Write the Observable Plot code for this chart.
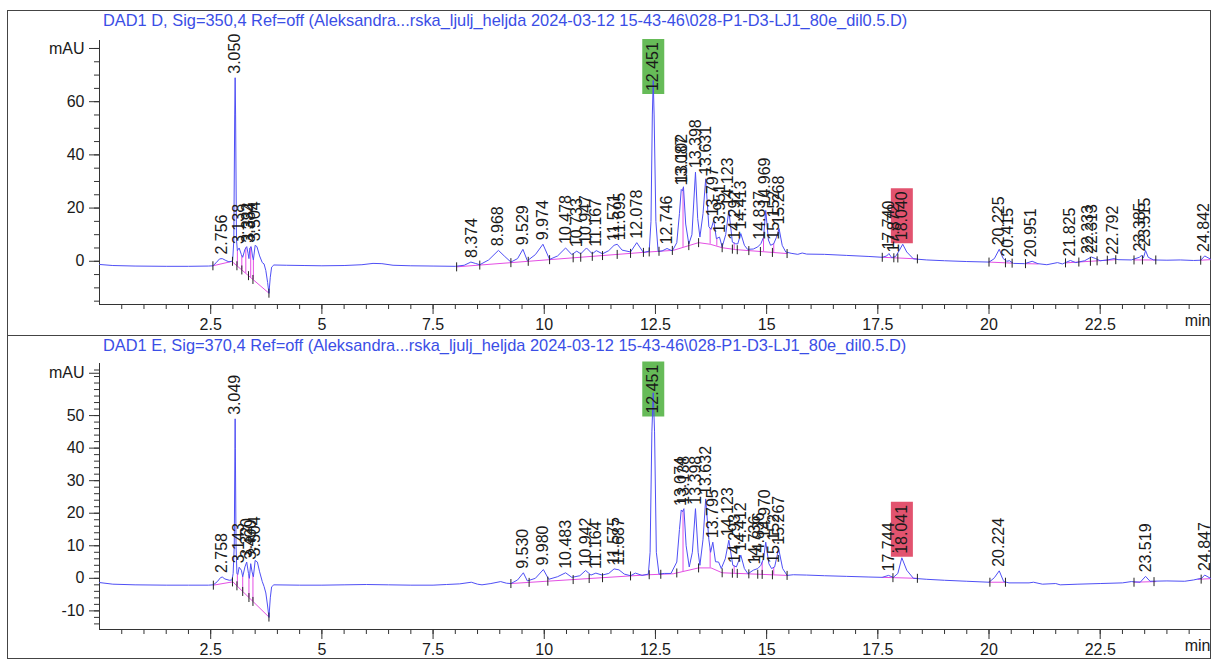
<!DOCTYPE html>
<html><head><meta charset="utf-8">
<script src="https://cdn.jsdelivr.net/npm/d3@7"></script>
<script src="https://cdn.jsdelivr.net/npm/@observablehq/plot@0.6"></script>
<style>
html,body{margin:0;padding:0;background:#fff;}
body{width:1211px;height:665px;overflow:hidden;font-family:"Liberation Sans",Arial,sans-serif;}
#frame{position:absolute;left:7px;top:10px;width:1202px;border:1px solid #444;}
.panel{position:relative;}
#p1{height:324px;border-bottom:1px solid #444;}
#p2{height:322px;}
.title{position:absolute;left:95px;top:0px;font-size:16.4px;color:#3a4ee6;white-space:nowrap;z-index:2;}
.panel svg{position:absolute;left:0;top:0;overflow:visible;}
</style>
</head><body>
<div id="frame">
  <div class="panel" id="p1"><div class="title" id="t1"></div></div>
  <div class="panel" id="p2"><div class="title" id="t2"></div></div>
</div>
<script>
const titleD = "DAD1 D, Sig=350,4 Ref=off (Aleksandra...rska_ljulj_heljda 2024-03-12 15-43-46\\028-P1-D3-LJ1_80e_dil0.5.D)";
const titleE = "DAD1 E, Sig=370,4 Ref=off (Aleksandra...rska_ljulj_heljda 2024-03-12 15-43-46\\028-P1-D3-LJ1_80e_dil0.5.D)";

// signal D (350 nm): [time min, mAU]
const traceD = [[0,-1.2],[0.3,-1.6],[0.8,-1.8],[1.5,-1.9],[2.0,-1.9],[2.45,-1.8],[2.55,-1.7],[2.62,-0.6],[2.70,0.9],[2.76,1.0],[2.84,0.3],[2.91,-0.2],[2.97,0.0],[2.995,0.4],[3.02,8],[3.04,55],[3.05,69],[3.06,55],[3.08,8],[3.10,4.0],[3.14,5.0],[3.19,2.5],[3.22,1.5],[3.27,4.5],[3.31,5.5],[3.34,3.0],[3.36,1.0],[3.38,5.0],[3.41,5.5],[3.44,2.0],[3.46,0.5],[3.50,6.0],[3.54,5.5],[3.60,2.0],[3.66,-0.5],[3.70,-1.0],[3.74,-3.5],[3.78,-8.0],[3.81,-12.0],[3.84,-6.0],[3.87,-2.2],[3.92,-1.4],[4.2,-1.5],[4.6,-1.6],[5.0,-1.7],[5.5,-1.6],[5.9,-1.3],[6.15,-0.8],[6.35,-0.9],[6.6,-1.5],[7.0,-1.7],[7.5,-1.8],[8.0,-1.9],[8.2,-1.5],[8.35,-0.3],[8.45,-0.8],[8.55,-1.3],[8.75,0.5],[8.97,4.1],[9.10,2.0],[9.25,-0.3],[9.40,1.0],[9.52,4.5],[9.62,0.2],[9.80,2.5],[9.97,6.4],[10.12,0.7],[10.30,2.0],[10.48,5.0],[10.62,2.5],[10.73,3.8],[10.82,2.8],[10.95,5.0],[11.08,2.8],[11.17,4.0],[11.31,2.8],[11.45,4.0],[11.57,6.0],[11.64,6.4],[11.75,4.2],[11.94,3.5],[12.08,7.0],[12.23,3.3],[12.36,3.8],[12.40,15],[12.43,55],[12.45,68],[12.47,55],[12.51,15],[12.56,3.7],[12.65,3.9],[12.76,4.8],[12.88,3.9],[12.98,7.0],[13.04,18],[13.08,27],[13.11,26.5],[13.13,28],[13.18,14],[13.25,6.5],[13.32,10],[13.40,33.5],[13.45,16],[13.50,9.1],[13.57,18],[13.63,31],[13.70,13],[13.75,12],[13.81,15.4],[13.87,8.5],[13.94,9.1],[14.00,5.4],[14.08,10],[14.15,19.1],[14.23,7.2],[14.30,6.6],[14.35,6.5],[14.42,10.4],[14.50,6.0],[14.57,4.5],[14.70,4.6],[14.80,5.4],[14.87,6.6],[14.93,9.0],[14.98,19.1],[15.04,8.0],[15.09,6.0],[15.16,6.6],[15.22,9.0],[15.28,12.3],[15.35,6.0],[15.43,3.5],[15.55,3.0],[15.70,2.6],[15.80,3.1],[15.90,2.7],[16.3,2.6],[16.8,2.2],[17.3,1.8],[17.6,1.5],[17.70,2.0],[17.75,2.9],[17.81,1.4],[17.90,1.8],[17.98,4.0],[18.06,6.4],[18.15,3.5],[18.30,0.9],[18.6,0.5],[19.0,0.2],[19.5,-0.1],[20.0,-0.3],[20.12,1.0],[20.23,4.5],[20.32,1.0],[20.40,0.0],[20.46,0.2],[20.55,-0.8],[20.80,-0.9],[20.97,0.0],[21.1,-0.9],[21.3,-1.3],[21.54,-0.5],[21.65,-1.0],[21.83,0.3],[21.95,-0.5],[22.15,0.2],[22.30,1.6],[22.40,1.0],[22.50,0.2],[22.66,0.5],[22.81,1.0],[22.90,0.6],[23.20,0.5],[23.38,1.5],[23.43,2.2],[23.47,1.2],[23.52,4.0],[23.58,1.5],[23.70,0.5],[24.0,0.4],[24.3,0.5],[24.6,0.3],[24.76,0.4],[24.85,2.0],[24.98,0.8]];

// signal E (370 nm)
const traceE = [[0,-1.3],[0.3,-1.8],[0.8,-2.0],[1.5,-2.1],[2.0,-2.1],[2.45,-2.1],[2.56,-2.0],[2.65,-1.0],[2.72,0.2],[2.76,0.4],[2.82,-0.2],[2.92,-0.6],[2.98,-0.5],[3.005,1.5],[3.03,10],[3.045,40],[3.05,49],[3.055,40],[3.07,10],[3.09,1.5],[3.11,1.2],[3.14,3.4],[3.19,2.5],[3.22,0.5],[3.27,3.5],[3.31,5.0],[3.35,1.5],[3.37,0.0],[3.40,4.5],[3.43,2.0],[3.46,0.5],[3.50,5.5],[3.55,5.0],[3.60,2.0],[3.66,-1.0],[3.70,-2.5],[3.74,-4.5],[3.78,-8.5],[3.81,-12.0],[3.84,-6.0],[3.87,-2.6],[3.92,-2.0],[4.5,-2.1],[5.0,-2.1],[5.5,-2.0],[6.0,-1.9],[6.5,-2.0],[7.0,-2.1],[7.5,-2.1],[7.8,-1.9],[8.1,-1.7],[8.36,-1.2],[8.5,-1.8],[8.6,-2.0],[8.8,-1.6],[9.02,-1.0],[9.15,-1.5],[9.25,-1.6],[9.40,-0.5],[9.53,1.7],[9.62,-0.8],[9.80,0.0],[9.98,2.7],[10.10,-0.3],[10.30,0.5],[10.48,1.7],[10.62,0.3],[10.80,0.8],[10.93,2.4],[11.05,1.0],[11.16,1.6],[11.30,1.0],[11.45,1.5],[11.57,2.9],[11.68,2.6],[11.80,1.3],[11.94,0.8],[12.05,1.6],[12.20,0.9],[12.34,1.3],[12.38,8],[12.42,45],[12.45,57],[12.48,45],[12.52,8],[12.58,1.3],[12.70,1.5],[12.85,1.5],[12.98,5],[13.04,15],[13.08,21],[13.11,20.5],[13.14,21.4],[13.19,10],[13.26,3.5],[13.33,8],[13.40,21.4],[13.46,8],[13.50,4.0],[13.57,12],[13.63,24.4],[13.70,12],[13.74,8],[13.79,11.1],[13.85,5.1],[13.92,5.0],[13.98,3.0],[14.07,6],[14.15,11.7],[14.24,4.0],[14.32,3.5],[14.42,7.1],[14.50,3.0],[14.58,1.4],[14.70,2.5],[14.80,3.0],[14.87,4.0],[14.93,6.0],[14.98,11.1],[15.05,4.5],[15.11,3.0],[15.18,3.5],[15.27,9.1],[15.36,3.0],[15.46,0.9],[15.6,1.1],[15.9,1.0],[16.3,0.8],[16.8,0.6],[17.3,0.4],[17.6,0.3],[17.74,0.9],[17.85,0.3],[17.95,1.5],[18.04,6.3],[18.15,2.5],[18.30,0.0],[18.6,-0.3],[19.0,-0.6],[19.5,-0.9],[20.0,-1.2],[20.12,0.2],[20.23,2.3],[20.33,-1.0],[20.45,-1.4],[20.9,-1.4],[21.0,-1.2],[21.2,-1.8],[21.5,-1.6],[21.6,-2.0],[22.0,-1.8],[22.5,-1.6],[23.0,-1.4],[23.2,-1.0],[23.4,-1.2],[23.52,0.6],[23.62,-0.9],[24.0,-0.8],[24.4,-0.9],[24.6,-0.5],[24.70,-0.2],[24.78,0.0],[24.85,1.0],[24.98,0.0]];

// integration baselines (polylines)
const baseD = [
  [[2.55,-1.7],[2.99,0.0]],
  [[3.00,-0.4],[3.81,-12.0]],
  [[8.03,-2.1],[12.35,3.5],[12.90,4.1],[13.47,7.0],[13.73,6.4],[14.00,5.1],[14.30,4.4],[15.46,2.9]],
  [[17.60,1.5],[18.39,0.9]],
  [[20.00,-0.3],[20.52,-0.7]],
  [[20.82,-0.9],[21.10,-1.0]],
  [[21.72,-0.6],[22.85,0.6]],
  [[23.26,0.5],[23.75,0.5]],
  [[24.76,0.4],[24.98,0.6]]
];
const baseE = [
  [[2.56,-2.1],[2.99,-1.1]],
  [[3.00,-1.1],[3.81,-11.9]],
  [[9.25,-1.6],[12.35,1.1],[12.90,1.4],[13.47,3.2],[13.75,3.2],[14.00,1.7],[15.46,0.9]],
  [[17.60,0.3],[18.39,0.0]],
  [[20.00,-1.2],[20.37,-1.2]],
  [[23.26,-1.2],[23.75,-1.0]],
  [[24.70,-0.3],[24.98,-0.1]]
];

// integration event marks (min)
const eventsD = [2.55,2.99,3.09,3.20,3.35,3.45,3.81,8.03,8.55,9.25,9.64,10.12,10.65,10.82,11.08,11.31,11.64,11.94,12.23,12.36,12.58,12.88,13.25,13.47,14.00,14.23,14.34,14.60,14.86,15.13,15.46,17.60,17.86,17.95,18.39,20.00,20.37,20.52,20.82,21.72,22.02,22.28,22.43,22.66,22.85,23.26,23.45,23.75,24.76];
const eventsE = [2.56,2.99,3.09,3.22,3.36,3.45,3.81,9.25,9.66,10.08,10.65,11.01,11.31,11.94,12.36,12.62,12.98,13.47,14.00,14.23,14.34,14.60,14.80,14.90,15.13,15.46,17.84,18.39,20.02,20.37,23.26,23.71,24.77];

// drop lines (min)
const dropsD = [3.10,3.20,3.29,3.40,3.46,13.12,13.73,13.88,14.27,14.93,15.16];
const dropsE = [3.10,3.22,3.36,3.45,13.12,13.73,14.27,14.90,15.16];

// peak labels: [retention time, label height mAU]
const peaksD = [["2.756",1.0],["3.050",69],["3.138",5.0],["3.332",5.5],["3.384",5.5],["3.504",6.0],["8.374",-0.3],["8.968",4.1],["9.529",4.5],["9.974",6.4],["10.478",5.0],["10.733",3.8],["10.947",5.0],["11.167",4.0],["11.571",6.0],["11.695",6.4],["12.078",7.0],["12.451",62.5],["12.746",4.8],["13.087",27],["13.102",28],["13.398",33.5],["13.631",31],["13.797",15.4],["13.951",9.1],["14.123",19.1],["14.292",6.6],["14.413",10.4],["14.837",6.6],["14.969",19.1],["15.152",6.6],["15.268",12.3],["17.740",2.9],["17.872",1.8],["18.040",6.4],["20.225",4.5],["20.415",0.2],["20.951",0.0],["21.825",0.3],["22.233",1.2],["22.313",1.6],["22.792",1.0],["23.385",2.2],["23.515",4.0],["24.842",2.0]];
const peaksE = [["2.758",0.4],["3.049",49],["3.143",3.4],["3.320",5.0],["3.400",4.5],["3.504",5.5],["9.530",1.7],["9.980",2.7],["10.483",1.7],["10.942",2.4],["11.164",1.6],["11.575",2.9],["11.687",2.6],["12.451",49.4],["13.074",21],["13.138",21.4],["13.398",21.4],["13.632",24.4],["13.795",11.1],["14.123",11.7],["14.293",3.5],["14.412",7.1],["14.736",3.0],["14.836",4.0],["14.970",11.1],["15.152",3.5],["15.267",9.1],["17.744",0.9],["18.041",6.3],["20.224",2.3],["23.519",0.6],["24.847",1.0]];

const highlightGreen = "12.451";
const highlightRed = ["18.040","18.041"];

const xMajor = [2.5,5,7.5,10,12.5,15,17.5,20,22.5];

const BLUE = "#4f4ff5", MAG = "#e44fe4", INK = "#1a1a1a", AX = "#333";

function interpAt(pts, t) {
  for (let i = 0; i < pts.length - 1; i++) {
    const [t0, v0] = pts[i], [t1, v1] = pts[i + 1];
    if (t >= t0 && t <= t1) return v0 + (v1 - v0) * (t - t0) / (t1 - t0);
  }
  return null;
}
function baseAt(segs, trace, t) {
  for (const s of segs) { const v = interpAt(s, t); if (v !== null) return v; }
  return interpAt(trace, t);
}

const tickSym = {draw(ctx) { ctx.moveTo(0, -4.5); ctx.lineTo(0, 4.5); }};
const boxSym = {draw(ctx) { ctx.rect(-11, -52, 22, 55); }};

function makePanel(cfg) {
  const trace = cfg.trace.map(([t, v]) => ({t, v}));
  const base = cfg.base.flatMap((s, k) => s.map(([t, v]) => ({t, v, k})));
  const events = cfg.events.map(t => ({t, v: baseAt(cfg.base, cfg.trace, t)}));
  const drops = cfg.drops.map(t => ({t, y1: baseAt(cfg.base, cfg.trace, t), y2: interpAt(cfg.trace, t)}));
  const labels = cfg.peaks.map(([s, h]) => ({t: +s, s, h}));
  const green = labels.filter(d => d.s === highlightGreen);
  const red = labels.filter(d => highlightRed.includes(d.s));
  return Plot.plot({
    width: 1202, height: cfg.height,
    marginLeft: 91, marginRight: 0, marginTop: cfg.mt, marginBottom: cfg.mb,
    insetBottom: cfg.ib,
    x: {domain: [0, 24.98], label: null},
    y: {domain: cfg.ydom, label: null},
    style: {fontFamily: "'Liberation Sans', Arial, sans-serif", fontSize: "16px", color: INK, background: "transparent", overflow: "visible"},
    marks: [
      Plot.frame({anchor: "left", stroke: AX}),
      Plot.frame({anchor: "bottom", stroke: AX}),
      Plot.axisX({ticks: xMajor, tickSize: 10, tickPadding: 4, fontSize: 16, stroke: AX, fill: INK, label: null, tickFormat: d => String(d)}),
      Plot.axisX({ticks: d3.range(0.5, 25, 0.5), tickSize: 5, text: null, stroke: AX, label: null}),
      Plot.axisY({ticks: cfg.yMajor, tickSize: 10, tickPadding: 5, fontSize: 16, stroke: AX, fill: INK, label: null, tickFormat: d => d === cfg.mau ? "mAU" : String(d)}),
      Plot.axisY({ticks: cfg.yMinor, tickSize: 5, text: null, stroke: AX, label: null}),
      Plot.dot(green, {x: "t", y: "h", symbol: boxSym, fill: "#66bb58", stroke: null, dy: -4}),
      Plot.dot(red, {x: "t", y: "h", symbol: boxSym, fill: "#e2536f", stroke: null, dy: -4}),
      Plot.line(base, {x: "t", y: "v", z: "k", stroke: MAG, strokeWidth: 1}),
      Plot.ruleX(drops, {x: "t", y1: "y1", y2: "y2", stroke: MAG, strokeWidth: 1}),
      Plot.line(trace, {x: "t", y: "v", stroke: BLUE, strokeWidth: 1}),
      Plot.dot(events, {x: "t", y: "v", symbol: tickSym, stroke: "#222", fill: "none", strokeWidth: 1}),
      Plot.text(labels, {x: "t", y: "h", text: "s", rotate: -90, textAnchor: "start", dy: -4, fontSize: 16, fill: INK}),
      Plot.text(["min"], {frameAnchor: "bottom-right", text: d => d, textAnchor: "end", dy: 21, fontSize: 16, fill: INK})
    ]
  });
}

document.getElementById("t1").textContent = titleD;
document.getElementById("t2").textContent = titleE;

document.getElementById("p1").appendChild(makePanel({
  trace: traceD, base: baseD, events: eventsD, drops: dropsD, peaks: peaksD,
  height: 324, mt: 29, mb: 31, ib: 2, ydom: [-15.5, 83],
  yMajor: [0, 20, 40, 60, 80], mau: 80, yMinor: d3.range(-15, 81, 5)
}));
document.getElementById("p2").appendChild(makePanel({
  trace: traceE, base: baseE, events: eventsE, drops: dropsE, peaks: peaksE,
  height: 322, mt: 27, mb: 29, ib: 3, ydom: [-14.8, 66],
  yMajor: [-10, 0, 10, 20, 30, 40, 50, 63], mau: 63, yMinor: d3.range(-14, 65, 2)
}));
</script>
</body></html>
